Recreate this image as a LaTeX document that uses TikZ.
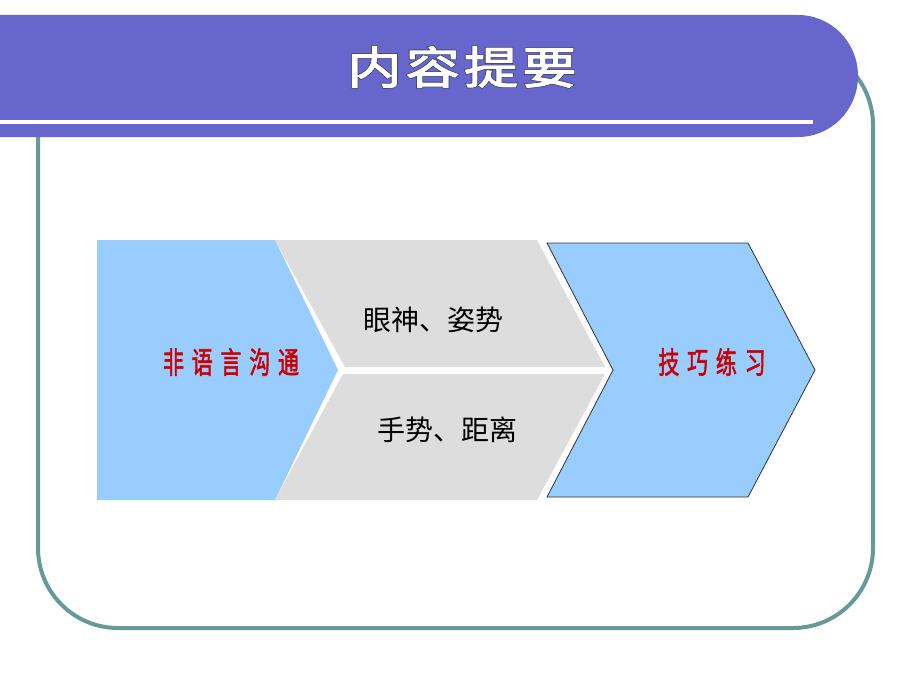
\documentclass[tikz,border=0pt]{standalone}
\usepackage{fontspec}
\usepackage{graphicx}
\usepackage{tikz}
\newfontfamily\cjk{Noto Sans CJK SC}
\newfontfamily\cjktitle[FakeBold=2.5,LetterSpace=8]{Noto Sans CJK SC}
\newfontfamily\cjktitleedge[FakeBold=5,LetterSpace=8]{Noto Sans CJK SC}
\newfontfamily\cjkred[FakeBold=2,LetterSpace=37]{Noto Sans CJK SC}
\newcommand{\narrowred}[1]{\scalebox{0.7}[1]{\cjkred\fontsize{30}{30}\selectfont #1}}
\definecolor{bandblue}{HTML}{6666CC}
\definecolor{framegreen}{HTML}{669999}
\definecolor{lightblue}{HTML}{99CCFF}
\definecolor{lightgray}{HTML}{DDDDDD}
\definecolor{labelred}{HTML}{CC0000}
\definecolor{titleedge}{HTML}{33334D}

\begin{document}
\begin{tikzpicture}[x=1pt, y=-1pt,
		blueshape/.style={fill=lightblue},
		grayshape/.style={fill=lightgray},
		redlabel/.style={text=labelred},
		blacklabel/.style={text=black, font=\cjk\fontsize{28}{28}\selectfont}]
			%%%%% START %%%%%
			\useasboundingbox (0, 0) rectangle (920, 690);
			
			\draw[line width=4pt, color=framegreen, rounded corners=80pt] (38, 45) rectangle (873, 628);
			
			\fill[bandblue] (0, 15) -- (798, 15) .. controls (831, 15) and (858, 42) .. (858, 76)
				.. controls (858, 110) and (831, 137) .. (798, 137) -- (0, 137) -- cycle;
			\fill[white] (0, 120) rectangle (813, 124);
			\node (title) at (462, 67) {\scalebox{1}[0.82]{\fontsize{54}{54}\selectfont
				\rlap{\color{titleedge}\cjktitleedge 内容提要}\color{white}\cjktitle 内容提要}};
			
			\fill[grayshape] (275, 240) -- (537, 240) -- (605, 367) -- (345, 367) -- cycle;
			\fill[grayshape] (343, 374) -- (605, 374) -- (537, 500) -- (275, 500) -- cycle;
			\fill[blueshape] (97, 240) -- (275, 240) -- (338, 370) -- (275, 500) -- (97, 500) -- cycle;
			\filldraw[blueshape, draw=black!80, line width=0.8pt] (547, 243) -- (748, 243) -- (815, 370)
				-- (748, 497) -- (547, 497) -- (613, 370) -- cycle;
			
			\node[redlabel] (nonverbal) at (231, 362) {\narrowred{非语言沟通}};
			\node[blacklabel] (eyes) at (433, 320) {眼神、姿势};
			\node[blacklabel] (hands) at (447, 430) {手势、距离};
			\node[redlabel] (practice) at (712, 362) {\narrowred{技巧练习}};
			%%%%% END %%%%%
		\end{tikzpicture}
\end{document}
